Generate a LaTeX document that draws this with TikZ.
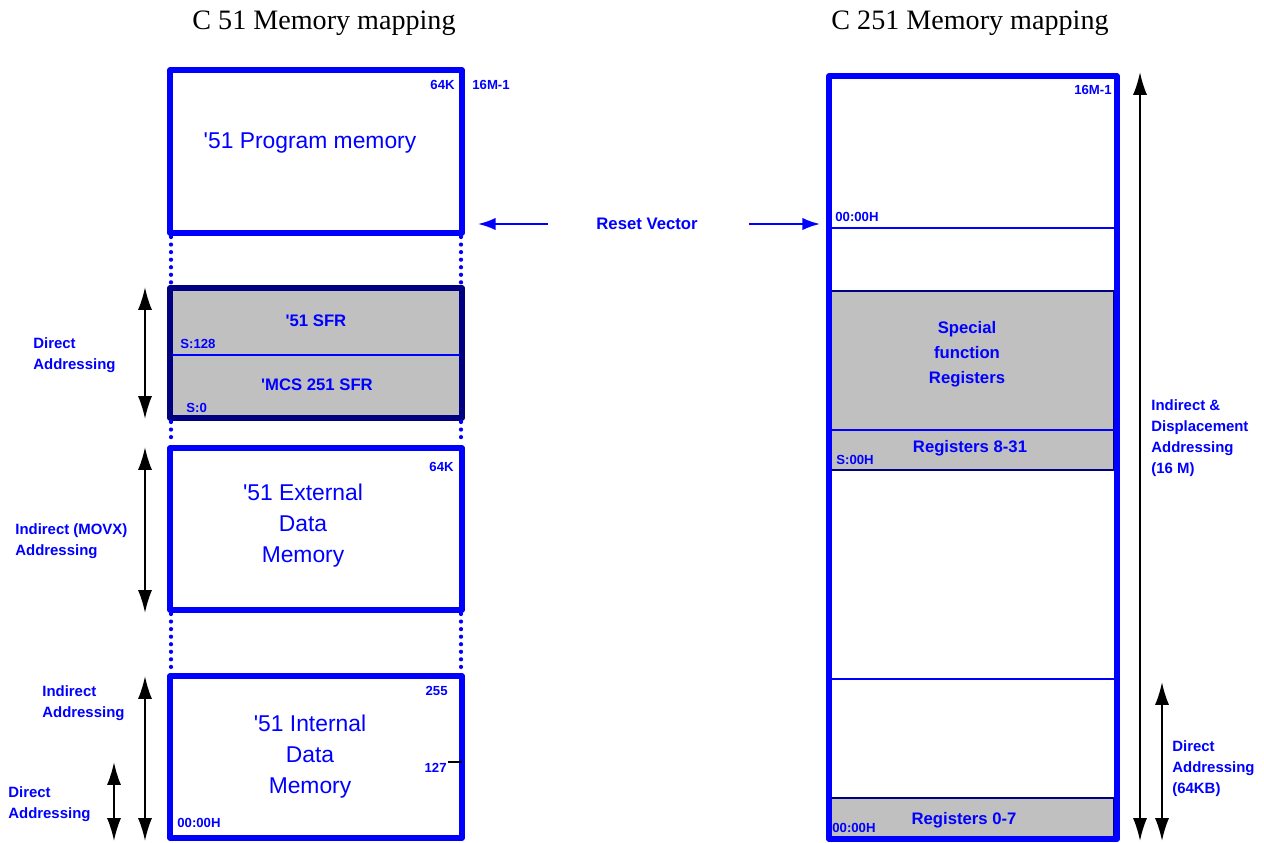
\documentclass[tikz,border=0pt]{standalone}
\usepackage{fontspec}
\setmainfont{Liberation Sans}
\newfontfamily\headfont{Liberation Serif}
\usetikzlibrary{arrows.meta,positioning}
\definecolor{memblue}{RGB}{0,0,255}
\definecolor{memnavy}{RGB}{0,0,128}
\definecolor{memgray}{RGB}{192,192,192}
\newcommand{\q}{\textquotesingle}

\begin{document}
\begin{tikzpicture}[x=0.02cm,y=-0.02cm]

\tikzstyle{membox} = [draw=memblue, line width=3.2pt, line join=round]
\tikzstyle{sfrbox} = [fill=memgray, draw=memnavy, line width=3.2pt, line join=round]
\tikzstyle{regbox} = [fill=memgray, draw=memnavy, line width=0.8pt]
\tikzstyle{sep} = [draw=memblue, line width=0.9pt]
\tikzstyle{gap} = [draw=memblue, line width=2.4pt, line cap=round, dash pattern=on 0pt off 4.3pt]
\tikzstyle{big} = [text=memblue, font=\fontsize{13}{17.6}\selectfont, align=center]
\tikzstyle{mid} = [text=memblue, font=\bfseries\fontsize{9.5}{14.2}\selectfont, align=center]
\tikzstyle{lbl} = [text=memblue, font=\bfseries\fontsize{8.5}{12}\selectfont, align=left, anchor=west, inner sep=0pt]
\tikzstyle{tag} = [text=memblue, font=\bfseries\fontsize{7.5}{8}\selectfont, inner sep=0pt]
\tikzstyle{title} = [font=\headfont\fontsize{16}{18}\selectfont]
\tikzstyle{span} = [black, line width=1.1pt, {Latex[length=13pt,width=8pt]}-{Latex[length=13pt,width=8pt]}]
\tikzstyle{reset} = [memblue, line width=1.1pt, -{Latex[length=10pt,width=7pt]}]

\useasboundingbox (0,0) rectangle (1264,842);

% titles
\node[title] (t51) at (324,23) {C 51 Memory mapping};
\node[title] (t251) at (970,23) {C 251 Memory mapping};

% C 51 side
\draw[membox] (170,70) rectangle (462,233);
\draw[sfrbox] (170,288) rectangle (462,418);
\draw[sep] (172,355) -- (460,355);
\draw[membox] (170,448) rectangle (462,610);
\draw[membox] (170,676) rectangle (462,838);
\draw[gap] (171,237) -- (171,284);
\draw[gap] (461,237) -- (461,284);
\draw[gap] (171,422) -- (171,444);
\draw[gap] (461,422) -- (461,444);
\draw[gap] (171,614) -- (171,672);
\draw[gap] (461,614) -- (461,672);
\draw[black, line width=0.8pt] (448,762) -- (462,762);

\node[big] (prog) at (310,143) {\q51 Program memory};
\node[tag, anchor=east] (prog64) at (455,85) {64K};
\node[tag, anchor=west] (prog16) at (472,85) {16M-1};
\node[mid] (sfr51) at (316,321) {\q51 SFR};
\node[mid] (sfr251) at (317,385) {\q MCS 251 SFR};
\node[tag, anchor=west] (s128) at (180,344) {S:128};
\node[tag, anchor=west] (s0) at (186,408) {S:0};
\node[big] (ext) at (303,526) {\q51 External\\Data\\Memory};
\node[tag, anchor=east] (ext64) at (454,467) {64K};
\node[big] (int) at (310,757) {\q51 Internal\\Data\\Memory};
\node[tag, anchor=east] (i255) at (448,691) {255};
\node[tag, anchor=east] (i127) at (447,768) {127};
\node[tag, anchor=west] (i00) at (177,823) {00:00H};

% addressing ranges, C 51
\coordinate (da1) at (145,287);  \coordinate (da2) at (145,419);
\coordinate (mx1) at (145,447);  \coordinate (mx2) at (145,613);
\coordinate (ia1) at (145,676);  \coordinate (ia2) at (145,841);
\coordinate (db1) at (114,762);  \coordinate (db2) at (114,841);
\draw[span] (da1) -- (da2);
\draw[span] (mx1) -- (mx2);
\draw[span] (ia1) -- (ia2);
\draw[span] (db1) -- (db2);
\node[lbl] (ldirect) at (33,355) {Direct\\Addressing};
\node[lbl] (lmovx) at (15,541) {Indirect (MOVX)\\Addressing};
\node[lbl] (lindirect) at (42,703) {Indirect\\Addressing};
\node[lbl] (ldirect2) at (8,804) {Direct\\Addressing};

% reset vector
\node[mid] (rv) at (647,224) {Reset Vector};
\coordinate (rvl) at (548,224);  \coordinate (rvl2) at (478,224);
\coordinate (rvr) at (749,224);  \coordinate (rvr2) at (820,224);
\draw[reset] (rvl) -- (rvl2);
\draw[reset] (rvr) -- (rvr2);

% C 251 side
\draw[regbox] (831,291) rectangle (1114,470);
\draw[sep] (831,430) -- (1114,430);
\draw[regbox] (831,798) rectangle (1114,838);
\draw[sep] (831,228) -- (1114,228);
\draw[sep] (831,679) -- (1114,679);
\draw[membox] (829,76) rectangle (1117,839);

\node[tag, anchor=east] (r16) at (1112,90) {16M-1};
\node[tag, anchor=west] (r00) at (835,217) {00:00H};
\node[mid] (sfrx) at (967,354) {Special\\function\\Registers};
\node[mid] (r831) at (970,448) {Registers 8-31};
\node[tag, anchor=west] (rs00) at (836,460) {S:00H};
\node[mid] (r07) at (964,820) {Registers 0-7};
\node[tag, anchor=west] (rb00) at (832,828) {00:00H};

% addressing ranges, C 251
\coordinate (ind1) at (1140,72);  \coordinate (ind2) at (1140,841);
\coordinate (dir1) at (1162,682); \coordinate (dir2) at (1162,841);
\draw[span] (ind1) -- (ind2);
\draw[span] (dir1) -- (dir2);
\node[lbl] (lind) at (1151,438) {Indirect \&\\Displacement\\Addressing\\(16 M)};
\node[lbl] (ldir) at (1172,769) {Direct\\Addressing\\(64KB)};

\end{tikzpicture}
\end{document}
